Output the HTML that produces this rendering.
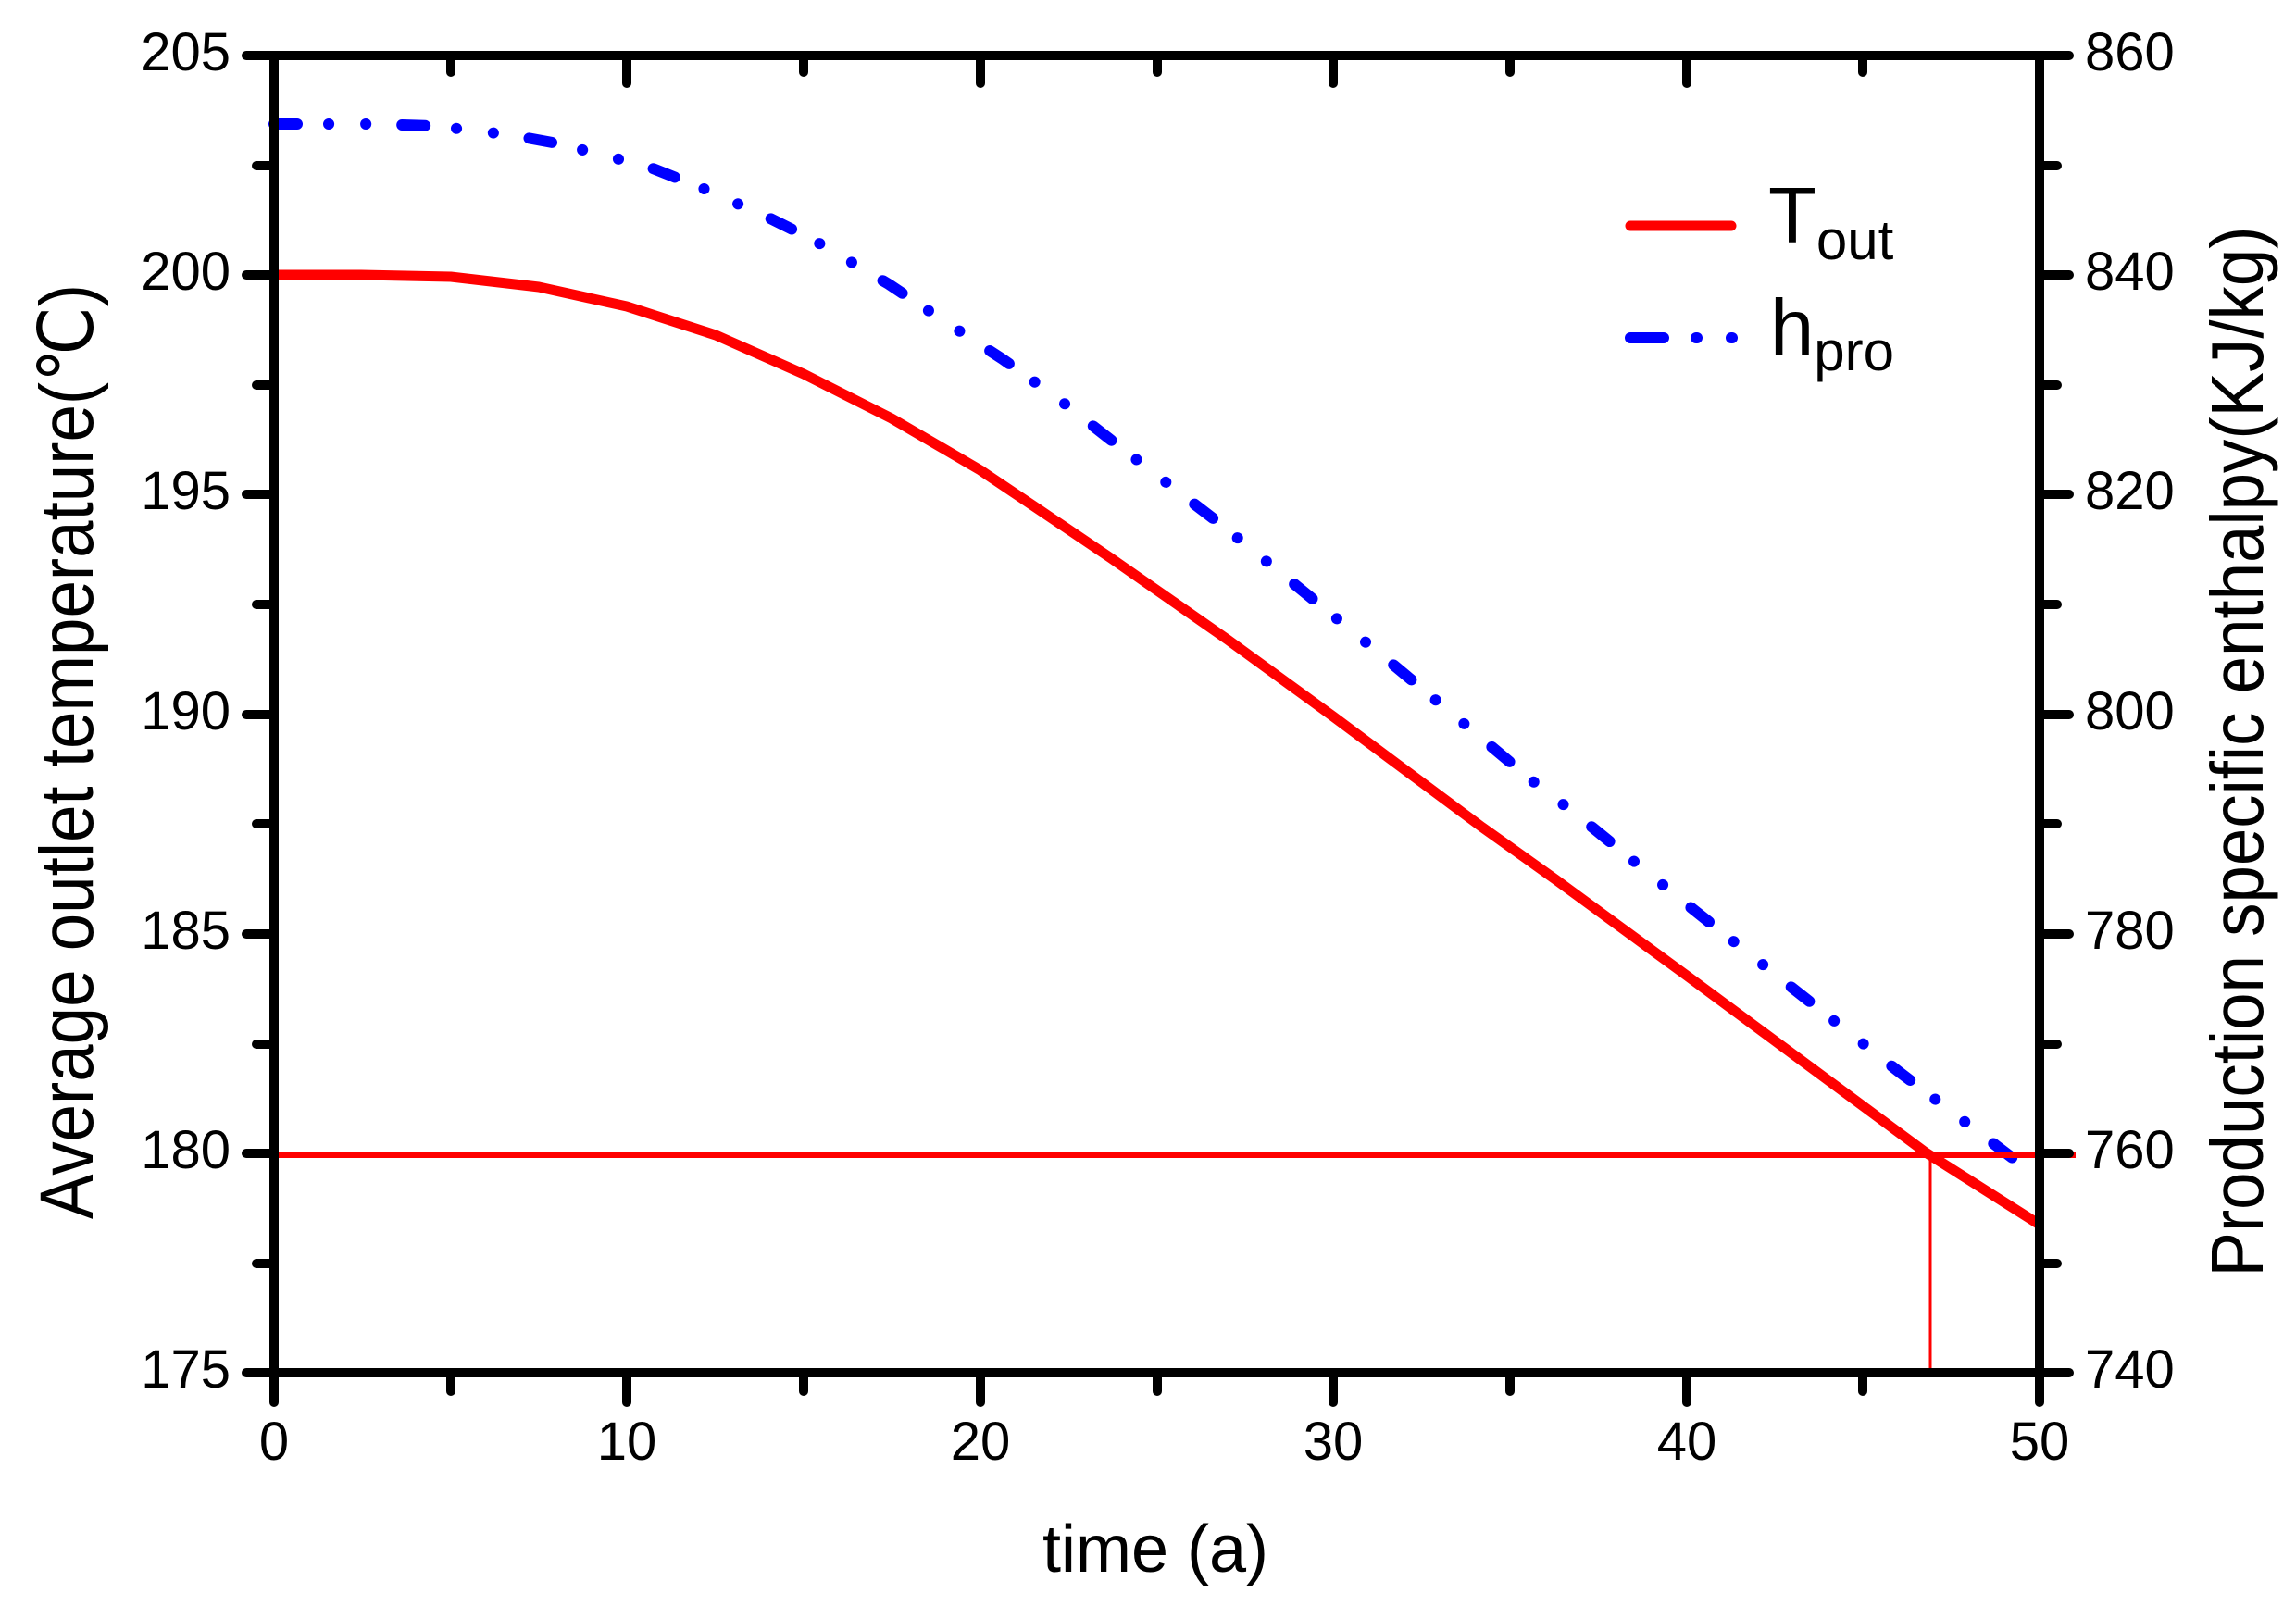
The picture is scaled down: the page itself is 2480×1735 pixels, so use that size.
<!DOCTYPE html>
<html><head><meta charset="utf-8"><style>
html,body{margin:0;padding:0;background:#fff;}
svg{display:block;}
text{font-family:"Liberation Sans",Arial,sans-serif;fill:#000;}
</style></head><body>
<svg width="2480" height="1735" viewBox="0 0 2480 1735" xmlns="http://www.w3.org/2000/svg">
<rect width="2480" height="1735" fill="#fff"/>
<!-- red T_out curve -->
<polyline fill="none" stroke="#ff0000" stroke-width="11" stroke-linejoin="round"
points="296,297 390,297 487,299 582,310 677,331 773,362 868,404 963,452 1059,508 1117,547 1200,603 1326,691 1440,774 1600,893 1680,950 1822,1054 2080,1245 2203,1323"/>
<!-- blue h_pro curve -->
<polyline fill="none" stroke="#0000ff" stroke-width="12" stroke-linecap="round" stroke-linejoin="round" stroke-dasharray="25 34 0.1 40 0.1 39"
points="296,134 400,134 470,136 553,146 602,155 700,180 763,205 832,236 880,260 960,307 1020,347 1083,388 1142,430 1197,473 1318,566 1360,600 1500,714 1663,850 1703,880 1817,973 1933,1065 2050,1157 2183,1258"/>
<!-- threshold lines -->
<line x1="296" y1="1248" x2="2242" y2="1248" stroke="#ff0000" stroke-width="6"/>
<line x1="2085" y1="1248" x2="2085" y2="1483" stroke="#ff0000" stroke-width="3"/>
<!-- axes frame -->
<g stroke="#000" stroke-width="10" stroke-linecap="round" fill="none">
<rect x="296" y="60" width="1907" height="1423" stroke-linecap="butt"/>
<path d="M296 60H266M296 297H266M296 534H266M296 772H266M296 1009H266M296 1246H266M296 1483H266"/>
<path d="M296 179H277M296 416H277M296 653H277M296 890H277M296 1128H277M296 1365H277"/>
<path d="M2203 60H2235M2203 297H2235M2203 534H2235M2203 772H2235M2203 1009H2235M2203 1246H2235M2203 1483H2235"/>
<path d="M2203 179H2222M2203 416H2222M2203 653H2222M2203 890H2222M2203 1128H2222M2203 1365H2222"/>
<path d="M296 1483V1515M677 1483V1515M1059 1483V1515M1440 1483V1515M1822 1483V1515M2203 1483V1515"/>
<path d="M487 1483V1503M868 1483V1503M1250 1483V1503M1631 1483V1503M2012 1483V1503"/>
<path d="M677 60V90M1059 60V90M1440 60V90M1822 60V90"/>
<path d="M487 60V78M868 60V78M1250 60V78M1631 60V78M2012 60V78"/>
</g>
<g font-size="58" text-anchor="end">
<text x="249" y="76">205</text>
<text x="249" y="313">200</text>
<text x="249" y="550">195</text>
<text x="249" y="788">190</text>
<text x="249" y="1025">185</text>
<text x="249" y="1262">180</text>
<text x="249" y="1499">175</text>
</g>
<g font-size="58" text-anchor="start">
<text x="2252" y="76">860</text>
<text x="2252" y="313">840</text>
<text x="2252" y="550">820</text>
<text x="2252" y="788">800</text>
<text x="2252" y="1025">780</text>
<text x="2252" y="1262">760</text>
<text x="2252" y="1499">740</text>
</g>
<g font-size="58" text-anchor="middle">
<text x="296" y="1577">0</text>
<text x="677" y="1577">10</text>
<text x="1059" y="1577">20</text>
<text x="1440" y="1577">30</text>
<text x="1822" y="1577">40</text>
<text x="2203" y="1577">50</text>
</g>
<text x="1248" y="1698" font-size="72" text-anchor="middle">time (a)</text>
<text transform="translate(100,812) rotate(-90)" font-size="82" text-anchor="middle" textLength="1010" lengthAdjust="spacingAndGlyphs" font-family="'Liberation Sans','Noto Sans CJK SC',sans-serif">Average outlet temperature(℃)</text>
<text transform="translate(2444,812) rotate(-90)" font-size="80" text-anchor="middle" textLength="1135" lengthAdjust="spacingAndGlyphs">Production specific enthalpy(KJ/kg)</text>
<line x1="1761" y1="244" x2="1870" y2="244" stroke="#ff0000" stroke-width="11" stroke-linecap="round"/>
<text x="1910" y="262" font-size="85">T<tspan font-size="60" dy="18">out</tspan></text>
<g stroke="#0000ff" stroke-width="12" stroke-linecap="round">
<line x1="1761" y1="365" x2="1797" y2="365"/>
<line x1="1832" y1="365" x2="1833" y2="365"/>
<line x1="1870" y1="365" x2="1871" y2="365"/>
</g>
<text x="1912" y="383" font-size="85">h<tspan font-size="60" dy="17">pro</tspan></text>
</svg>
</body></html>
